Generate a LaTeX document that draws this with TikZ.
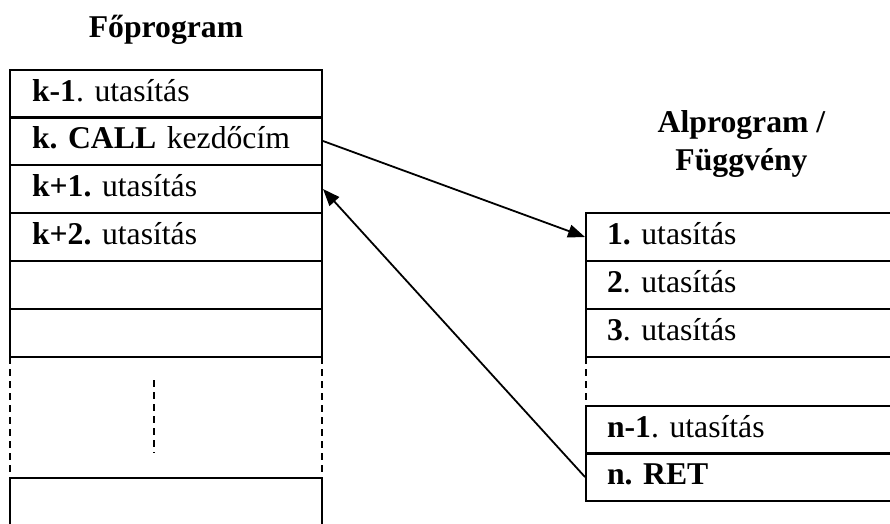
\documentclass[tikz,border=0pt]{standalone}
\usepackage{fontspec}
\setmainfont{Liberation Serif}
\usetikzlibrary{arrows.meta}
\frenchspacing
\begin{document}
\begin{tikzpicture}[x=1pt,y=-1pt,
  every node/.style={font=\fontsize{31.7}{38}\selectfont\frenchspacing},
  lrow/.style={draw, line width=2pt, minimum width=312pt, minimum height=48pt,
    text width=268pt, inner xsep=22pt, inner ysep=0pt, align=left,
    text height=22pt, text depth=7pt},
  rrow/.style={draw, line width=2pt, minimum width=330pt, minimum height=48pt,
    text width=288pt, inner xsep=21pt, inner ysep=0pt, align=left,
    text height=22pt, text depth=7pt},
  dashline/.style={line width=2pt, dash pattern=on 7pt off 5pt},
  arr/.style={line width=1.8pt, -{Triangle[length=17pt,width=13pt]}},
  title/.style={anchor=base, inner sep=0pt, font=\fontsize{31.7}{38}\selectfont\bfseries}]
\useasboundingbox (0,0) rectangle (890,523);
% titles
\node[title] (fo) at (166,37) {Főprogram};
\node[title] (al1) at (741.5,132) {Alprogram /};
\node[title] (al2) at (741.5,170) {Függvény};
% main program rows
\node[lrow] (k1)  at (166,93.5)  {\textbf{k-1}. utasítás};
\node[lrow] (k)   at (166,141)   {\textbf{k. CALL} kezdőcím};
\node[lrow] (kp1) at (166,189)   {\textbf{k+1.} utasítás};
\node[lrow] (kp2) at (166,237)   {\textbf{k+2.} utasítás};
\node[lrow] (e1)  at (166,285)   {};
\node[lrow] (e2)  at (166,333)   {};
\node[lrow, minimum height=62pt] (e3) at (166,509) {};
\draw[dashline] (10,357) -- (10,478);
\draw[dashline] (322,357) -- (322,478);
\draw[dashline] (154,380) -- (154,453);
% subroutine rows
\node[rrow] (r1) at (751,237) {\textbf{1.} utasítás};
\node[rrow] (r2) at (751,285) {\textbf{2}. utasítás};
\node[rrow] (r3) at (751,333) {\textbf{3}. utasítás};
\node[rrow] (rn1) at (751,429.5) {\textbf{n-1}. utasítás};
\node[rrow] (rn) at (751,477) {\textbf{n. RET}};
\draw[dashline] (586,357) -- (586,406);
% connectors
\draw[arr] (k.east) -- (r1.west);
\draw[arr] (rn.west) -- (kp1.east);
\end{tikzpicture}
\end{document}
